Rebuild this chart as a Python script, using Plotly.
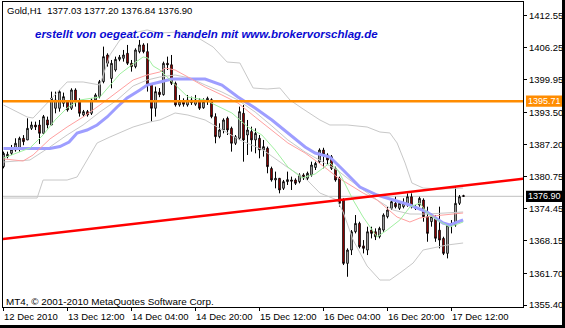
import plotly.graph_objects as go

# ---------------- data ----------------
bars = list(range(116))  # hourly bars, 12 Dec 2010 20:00 ... 17 Dec 2010 15:00

opens = [1382.76, 1384.74, 1385.40, 1386.06, 1386.39, 1388.37, 1388.04, 1390.34, 1391.00, 1391.00,
         1389.35, 1392.00, 1391.00, 1394.30, 1394.30, 1395.28, 1395.61, 1394.30, 1397.92, 1395.61,
         1392.98, 1393.64, 1393.31, 1395.94, 1396.60, 1399.57, 1404.84, 1400.20, 1401.87, 1403.98,
         1404.18, 1405.17, 1403.19, 1402.53, 1405.50, 1406.82, 1405.50, 1399.00, 1394.30, 1397.50,
         1397.00, 1403.19, 1402.90, 1399.24, 1394.96, 1395.61, 1394.96, 1395.94, 1395.10, 1395.94,
         1394.40, 1395.61, 1396.00, 1392.65, 1388.69, 1390.01, 1392.32, 1390.34, 1387.38, 1388.37,
         1393.31, 1389.02, 1389.70, 1388.04, 1388.37, 1386.06, 1386.39, 1382.40, 1380.13, 1380.46,
         1378.48, 1379.80, 1380.13, 1380.13, 1379.80, 1381.12, 1380.46, 1381.12, 1382.60, 1383.74,
         1386.05, 1385.06, 1384.73, 1382.43, 1380.45, 1376.17, 1363.64, 1366.28, 1369.90, 1371.55,
         1367.10, 1366.28, 1370.23, 1369.90, 1368.91, 1370.23, 1372.87, 1374.52, 1375.51, 1374.52,
         1374.85, 1375.18, 1376.82, 1374.85, 1375.18, 1376.17, 1372.87, 1371.90, 1372.50, 1370.20,
         1368.58, 1365.62, 1371.22, 1371.22, 1375.51, 1377.03]
highs = [1385.73, 1385.73, 1387.05, 1388.37, 1388.69, 1389.00, 1392.32, 1391.66, 1391.66, 1391.99,
         1392.98, 1392.65, 1397.59, 1397.59, 1397.92, 1397.40, 1395.94, 1398.25, 1398.25, 1396.27,
         1393.97, 1393.97, 1396.27, 1397.26, 1399.90, 1406.49, 1405.17, 1403.85, 1404.51, 1404.84,
         1405.83, 1406.82, 1403.85, 1406.16, 1407.81, 1407.15, 1407.15, 1399.24, 1398.58, 1398.30,
         1403.52, 1404.51, 1404.84, 1399.57, 1396.93, 1396.27, 1396.93, 1396.60, 1396.93, 1396.27,
         1396.27, 1396.60, 1396.27, 1393.31, 1391.33, 1392.32, 1392.65, 1390.67, 1389.02, 1394.63,
         1394.96, 1391.99, 1390.67, 1390.34, 1389.02, 1388.04, 1386.72, 1382.76, 1381.78, 1380.46,
         1380.13, 1381.78, 1380.79, 1380.46, 1381.45, 1381.45, 1381.78, 1383.75, 1383.74, 1386.38,
         1386.50, 1385.40, 1385.06, 1382.76, 1380.78, 1376.50, 1366.61, 1370.23, 1373.20, 1371.88,
         1368.25, 1370.89, 1370.89, 1370.56, 1370.89, 1373.53, 1374.85, 1376.50, 1376.82, 1375.84,
         1376.50, 1377.48, 1377.48, 1375.18, 1376.82, 1376.50, 1374.85, 1373.50, 1373.20, 1374.85,
         1368.91, 1371.55, 1372.21, 1378.80, 1377.15, 1377.20]
lows = [1382.43, 1384.41, 1385.07, 1385.73, 1385.73, 1387.00, 1388.04, 1390.01, 1390.00, 1387.25,
        1389.35, 1390.34, 1391.00, 1393.31, 1393.64, 1394.60, 1393.64, 1393.97, 1394.63, 1392.65,
        1392.65, 1392.65, 1392.98, 1395.61, 1396.27, 1399.24, 1402.53, 1398.25, 1401.55, 1403.60,
        1403.52, 1402.86, 1401.55, 1402.20, 1405.17, 1405.17, 1397.60, 1391.66, 1392.65, 1396.50,
        1396.80, 1401.87, 1398.90, 1394.63, 1394.63, 1394.63, 1394.63, 1394.96, 1394.80, 1393.97,
        1394.20, 1394.96, 1392.32, 1387.38, 1388.37, 1389.35, 1389.02, 1385.73, 1387.05, 1388.04,
        1383.75, 1385.07, 1385.73, 1385.40, 1384.41, 1384.74, 1381.45, 1379.80, 1378.48, 1377.49,
        1378.15, 1379.14, 1378.15, 1379.14, 1379.47, 1380.13, 1380.13, 1380.79, 1382.10, 1383.41,
        1382.43, 1383.09, 1382.10, 1379.79, 1374.85, 1363.31, 1361.00, 1365.29, 1369.57, 1366.61,
        1365.62, 1365.29, 1368.58, 1368.25, 1368.58, 1369.90, 1372.54, 1374.19, 1374.52, 1374.19,
        1374.52, 1374.85, 1374.52, 1374.19, 1374.85, 1371.88, 1367.92, 1370.90, 1367.90, 1366.61,
        1365.29, 1364.63, 1369.57, 1370.89, 1375.18, 1376.84]
closes = [1385.40, 1385.20, 1386.20, 1387.38, 1388.37, 1387.71, 1390.34, 1391.00, 1390.60, 1389.35,
          1392.65, 1391.00, 1396.27, 1395.94, 1397.59, 1396.60, 1393.97, 1397.92, 1395.61, 1393.31,
          1393.64, 1392.98, 1395.94, 1396.93, 1399.57, 1404.51, 1403.19, 1403.19, 1403.98, 1404.40,
          1404.84, 1403.19, 1402.53, 1405.83, 1406.82, 1405.50, 1399.00, 1394.30, 1397.59, 1397.00,
          1403.19, 1402.90, 1399.24, 1394.96, 1395.61, 1395.10, 1395.94, 1395.40, 1395.94, 1394.30,
          1395.61, 1396.27, 1392.65, 1388.69, 1390.01, 1391.99, 1390.01, 1387.38, 1388.69, 1393.64,
          1388.04, 1390.01, 1388.04, 1389.35, 1386.06, 1386.72, 1382.76, 1380.13, 1380.46, 1378.15,
          1379.80, 1380.20, 1379.90, 1379.47, 1381.12, 1380.60, 1381.45, 1383.09, 1383.41, 1386.05,
          1385.20, 1384.07, 1382.43, 1380.12, 1375.51, 1363.64, 1366.28, 1369.90, 1371.55, 1366.94,
          1366.61, 1369.90, 1369.57, 1368.91, 1370.56, 1373.20, 1374.19, 1375.84, 1374.85, 1375.51,
          1375.51, 1376.82, 1374.85, 1374.52, 1376.50, 1372.87, 1369.57, 1372.90, 1368.60, 1368.25,
          1365.62, 1371.22, 1371.55, 1375.51, 1376.82, 1376.90]

# slow moving average (thick blue)
blue_bars = [0, 11.6, 14.1, 16.4, 18.4, 20.9, 23.4, 25.9, 28.4, 30.9, 34.1, 35.9, 39.1, 42.1, 50.4,
             54.6, 58.6, 62.9, 67.1, 71.1, 75.4, 77.9, 81.6, 84.9, 89.1, 93.4, 97.4, 101.6, 105.9,
             109.9, 111.6, 114.9]
blue_vals = [1386.35, 1386.35, 1386.75, 1387.63, 1389.42, 1390.01, 1391.00, 1392.58, 1394.56,
             1396.34, 1397.92, 1398.90, 1399.50, 1400.09, 1400.09, 1398.90, 1396.53, 1394.36,
             1391.99, 1389.42, 1386.65, 1385.46, 1384.67, 1382.10, 1378.74, 1377.16, 1376.17,
             1375.18, 1373.80, 1371.62, 1371.23, 1372.22]
# medium moving average (thin red)
red_bars = [0, 2.4, 4.9, 7.4, 9.9, 11.6, 15.9, 19.9, 24.1, 28.4, 32.4, 35.9, 39.1, 40.4, 42.9, 46.1,
            50.4, 54.6, 58.6, 62.9, 67.1, 71.1, 75.4, 77.9, 79.9, 83.4, 85.9, 89.9, 93.4, 98.4,
            101.6, 104.1, 107.4, 111.6, 114.9]
red_vals = [1384.30, 1384.08, 1383.88, 1385.07, 1387.04, 1388.23, 1390.60, 1392.58, 1394.95, 1397.52,
            1399.89, 1400.88, 1401.48, 1402.27, 1401.87, 1400.49, 1398.51, 1396.93, 1395.35,
            1392.58, 1390.01, 1387.44, 1385.46, 1384.08, 1382.89, 1380.72, 1379.53, 1377.55,
            1376.17, 1372.80, 1371.82, 1372.61, 1373.00, 1373.40, 1373.60]
# fast moving average (thin green)
green_bars = [0, 6.6, 9.9, 12.9, 15.9, 19.1, 24.1, 26.6, 29.1, 32.4, 34.9, 36.1, 37.4, 39.1, 42.9,
              46.1, 50.4, 57.1, 61.1, 64.6, 67.9, 71.1, 74.6, 77.9, 81.6, 83.6, 84.9, 87.4, 89.9,
              93.4, 95.9, 99.1, 101.6, 104.1, 105.9, 108.4, 111.6, 114.9]
green_vals = [1384.47, 1386.45, 1389.02, 1391.99, 1394.36, 1395.94, 1396.53, 1398.90, 1401.08,
              1403.06, 1404.44, 1404.24, 1402.66, 1401.87, 1398.90, 1396.53, 1395.94, 1393.37,
              1390.60, 1389.02, 1386.06, 1382.69, 1380.52, 1381.31, 1383.49, 1382.10, 1380.12,
              1376.17, 1372.81, 1368.85, 1370.24, 1372.22, 1374.79, 1375.58, 1373.60, 1372.22,
              1370.83, 1371.82]
# Bollinger bands (light gray)
bb_up_bars = [0, 5.9, 7.4, 11.6, 15.9, 19.9, 24.1, 26.6, 29.1, 32.4, 35.9, 39.1, 44.1, 49.1, 52.4,
              55.9, 59.1, 62.4, 65.9, 69.1, 71.6, 74.9, 79.1, 81.6, 85.9, 90.9, 94.1, 96.6, 98.4,
              100.4, 102.1, 104.9, 109.1, 114.9]
bb_up_vals = [1394.95, 1392.58, 1392.38, 1395.94, 1399.50, 1399.50, 1398.91, 1404.84, 1407.80,
              1409.19, 1409.78, 1409.19, 1409.38, 1408.00, 1406.42, 1403.45, 1403.25, 1398.31,
              1398.11, 1398.31, 1395.94, 1394.16, 1391.99, 1391.00, 1391.00, 1390.60, 1389.61,
              1389.42, 1387.44, 1383.48, 1379.53, 1378.54, 1378.34, 1378.54]
bb_mid_bars = [0, 6.6, 11.6, 15.9, 19.9, 24.1, 28.4, 32.4, 35.9, 39.1, 42.9, 46.6, 50.4, 54.6, 58.6,
               62.9, 67.1, 71.1, 75.4, 79.1, 83.4, 86.6, 89.9, 93.4, 97.4, 101.6, 105.9, 109.9, 114.9]
bb_mid_vals = [1383.68, 1384.08, 1386.65, 1389.02, 1391.00, 1393.57, 1395.94, 1398.71, 1399.89,
               1400.49, 1400.88, 1400.29, 1398.91, 1397.52, 1395.94, 1393.57, 1390.80, 1388.03,
               1385.66, 1384.08, 1382.10, 1380.12, 1378.15, 1376.17, 1374.19, 1373.40, 1373.40,
               1373.60, 1373.80]
bb_lo_bars = [0, 8.4, 9.9, 15.9, 18.4, 20.9, 23.4, 26.6, 32.4, 36.6, 39.1, 42.9, 46.1, 50.4, 54.6,
              59.1, 64.9, 70.9, 75.9, 79.1, 83.4, 84.9, 87.4, 90.9, 94.1, 96.6, 99.1, 102.4, 104.9,
              110.9, 114.9]
bb_lo_vals = [1376.56, 1376.56, 1380.12, 1380.12, 1380.72, 1384.08, 1387.44, 1388.62, 1390.60,
              1391.59, 1391.99, 1393.37, 1392.97, 1391.99, 1390.01, 1388.03, 1386.06, 1382.69,
              1380.12, 1377.55, 1376.17, 1373.80, 1368.26, 1363.12, 1360.35, 1360.35, 1361.74,
              1363.71, 1366.29, 1367.27, 1367.67]

# drawn objects
resistance_level = 1395.71
bid_level = 1376.90
trend_bars = [-1, 131]
trend_vals = [1368.39, 1380.47]

tick_bars = [0, 16, 32, 48, 64, 80, 96, 112]
tick_labels = ["12 Dec 2010", "13 Dec 12:00", "14 Dec 04:00", "14 Dec 20:00",
               "15 Dec 12:00", "16 Dec 04:00", "16 Dec 20:00", "17 Dec 12:00"]
price_ticks = [1412.55, 1406.25, 1399.95, 1393.50, 1387.20, 1380.75, 1374.45, 1368.15, 1361.70, 1355.40]

title_text = "Gold,H1\u00a0\u00a01377.03 1377.20 1376.84 1376.90"
watermark_text = "erstellt von oegeat.com - handeln mit www.brokervorschlag.de"
copyright_text = "MT4, \u00a9 2001-2010 MetaQuotes Software Corp."

# ---------------- layout geometry ----------------
W, H = 565, 328
ML, MR, MT, MB = 3, 42, 2, 21
PW, PH = W - ML - MR, H - MT - MB
Y_MIN, Y_MAX = 1355.02, 1415.31
X_MIN, X_MAX = -0.125, 129.875
FONT = "Liberation Sans"


def px_x(px):
    return (px - ML) / PW


def px_y(py):
    return (H - MB - py) / PH


def price_paper(p):
    return (p - Y_MIN) / (Y_MAX - Y_MIN)


fig = go.Figure()

for bx, by in [(bb_up_bars, bb_up_vals), (bb_mid_bars, bb_mid_vals), (bb_lo_bars, bb_lo_vals)]:
    fig.add_trace(go.Scatter(x=bx, y=by, mode="lines", line=dict(color="#c8c8c8", width=1),
                             hoverinfo="skip"))

fig.add_trace(go.Candlestick(
    x=bars, open=opens, high=highs, low=lows, close=closes,
    increasing=dict(line=dict(color="black", width=1), fillcolor="white"),
    decreasing=dict(line=dict(color="black", width=1), fillcolor="#e00000"),
    whiskerwidth=0, hoverinfo="skip"))

fig.add_trace(go.Scatter(x=blue_bars, y=blue_vals, mode="lines",
                         line=dict(color="#9e9eff", width=3), hoverinfo="skip"))
fig.add_trace(go.Scatter(x=red_bars, y=red_vals, mode="lines",
                         line=dict(color="#ffa0a0", width=1), hoverinfo="skip"))
fig.add_trace(go.Scatter(x=green_bars, y=green_vals, mode="lines",
                         line=dict(color="#a0f0a0", width=1), hoverinfo="skip"))
fig.add_trace(go.Scatter(x=trend_bars, y=trend_vals, mode="lines",
                         line=dict(color="#ff0000", width=2.5), hoverinfo="skip"))

shapes = [
    dict(type="line", xref="paper", yref="y", x0=0, x1=1, y0=bid_level, y1=bid_level,
         line=dict(color="#c0c0c0", width=1), layer="below"),
    dict(type="line", xref="paper", yref="y", x0=0, x1=1, y0=resistance_level, y1=resistance_level,
         line=dict(color="#ff8c00", width=2.5)),
]
half = 5.6 / PH
for lvl, col in [(resistance_level, "#ff8c00"), (bid_level, "#000000")]:
    yp = price_paper(lvl)
    shapes.append(dict(type="rect", xref="paper", yref="paper", x0=px_x(526), x1=px_x(562),
                       y0=yp - half, y1=yp + half, fillcolor=col, line=dict(width=0)))
# window frame
shapes.append(dict(type="rect", xref="paper", yref="paper", x0=px_x(562), x1=px_x(570),
                   y0=px_y(340), y1=px_y(-10), fillcolor="black", line=dict(width=0)))
shapes.append(dict(type="rect", xref="paper", yref="paper", x0=px_x(-10), x1=px_x(570),
                   y0=px_y(340), y1=px_y(325), fillcolor="black", line=dict(width=0)))

annotations = [
    dict(text=title_text, xref="paper", yref="paper", x=px_x(6), y=px_y(11), xanchor="left",
         yanchor="middle", showarrow=False, borderpad=0, font=dict(family=FONT, size=9.5, color="black")),
    dict(text="<b><i>" + watermark_text + "</i></b>", xref="paper", yref="paper", x=px_x(34),
         y=px_y(34), xanchor="left", yanchor="middle", showarrow=False, borderpad=0,
         font=dict(family=FONT, size=11.5, color="#0a0ad2")),
    dict(text=copyright_text, xref="paper", yref="paper", x=px_x(5), y=px_y(301), xanchor="left",
         yanchor="middle", showarrow=False, borderpad=0, font=dict(family=FONT, size=9.9, color="black")),
]
for b, t in zip(tick_bars, tick_labels):
    annotations.append(dict(text=t, xref="x", yref="paper", x=b, y=px_y(316.5), xanchor="left",
                            yanchor="middle", showarrow=False, borderpad=0, xshift=-1,
                            font=dict(family=FONT, size=9.5, color="black")))
for lvl in [resistance_level, bid_level]:
    annotations.append(dict(text=f"{lvl:.2f}", xref="paper", yref="paper", x=px_x(526.5),
                            y=price_paper(lvl), xanchor="left", yanchor="middle", showarrow=False,
                            borderpad=0, font=dict(family=FONT, size=9, color="white")))

fig.update_layout(
    width=W, height=H, margin=dict(l=ML, r=MR, t=MT, b=MB),
    paper_bgcolor="white", plot_bgcolor="white", showlegend=False, boxgap=0.45,
    xaxis=dict(range=[X_MIN, X_MAX], showgrid=False, zeroline=False, showline=True,
               linecolor="black", linewidth=1, mirror=True, ticks="outside", ticklen=3,
               tickcolor="black", tickvals=tick_bars, showticklabels=False,
               rangeslider=dict(visible=False)),
    yaxis=dict(range=[Y_MIN, Y_MAX], side="right", showgrid=False, zeroline=False, showline=True,
               linecolor="black", linewidth=1, mirror=True, ticks="outside", ticklen=3,
               tickcolor="black", tickvals=price_ticks, ticktext=[f"{v:.2f}" for v in price_ticks],
               tickfont=dict(family=FONT, size=9.5, color="black")),
    shapes=shapes, annotations=annotations,
)

fig.write_html("out.html")
